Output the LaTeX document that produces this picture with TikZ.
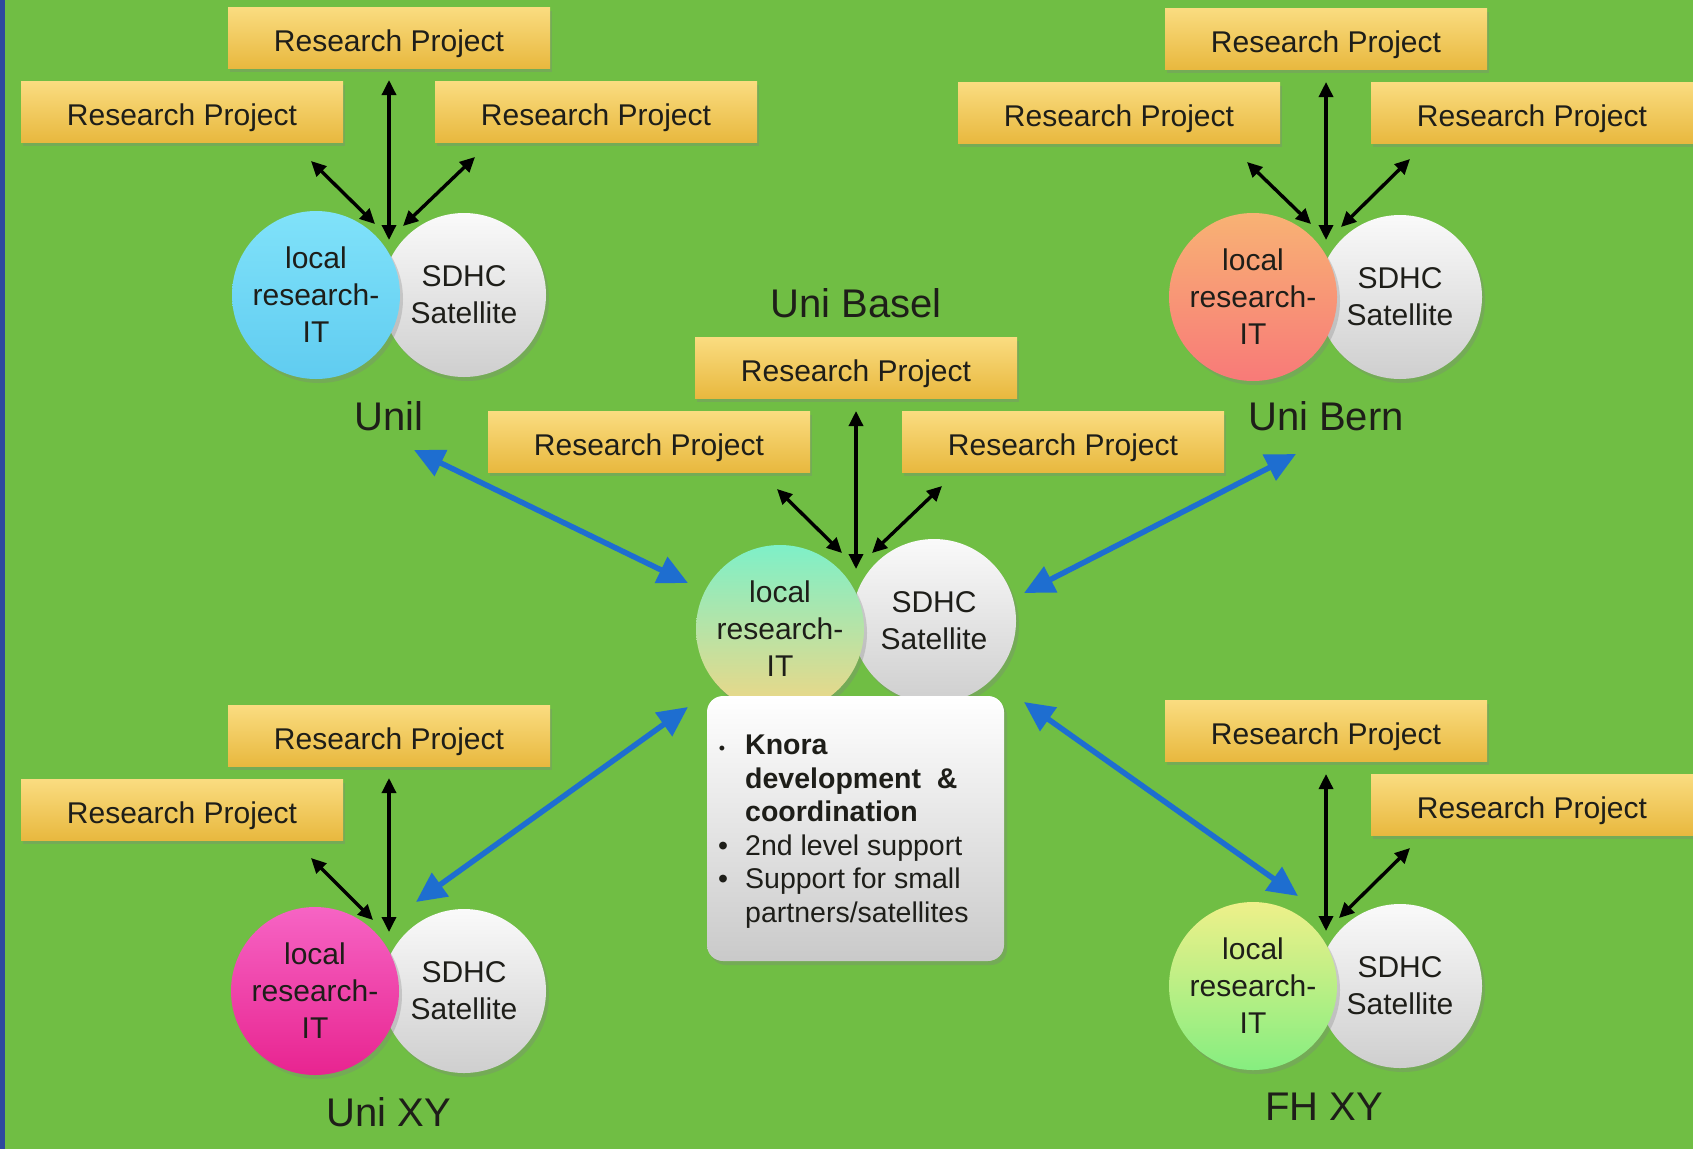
\documentclass[tikz,border=0pt]{standalone}
\usepackage{fontspec}
\setmainfont{Liberation Sans}
\usetikzlibrary{arrows.meta,shadows}
\definecolor{bg}{RGB}{112,190,68}
\definecolor{bord}{RGB}{46,74,158}
\definecolor{boxtop}{RGB}{250,220,128}
\definecolor{boxbot}{RGB}{232,184,62}
\definecolor{txt}{RGB}{30,30,25}
\definecolor{cyanA}{RGB}{128,226,250}
\definecolor{cyanB}{RGB}{96,204,240}
\definecolor{oraA}{RGB}{248,178,116}
\definecolor{oraB}{RGB}{248,122,120}
\definecolor{magA}{RGB}{246,100,196}
\definecolor{magB}{RGB}{232,36,144}
\definecolor{fhA}{RGB}{238,240,138}
\definecolor{fhB}{RGB}{134,238,128}
\definecolor{ctA}{RGB}{126,240,200}
\definecolor{ctB}{RGB}{240,214,132}
\definecolor{arrblue}{RGB}{30,110,208}
\begin{document}
\begin{tikzpicture}[x=1pt,y=-1pt,
  rp/.style={rectangle, minimum width=322pt, minimum height=61pt, inner sep=0pt,
    text height=27pt, text depth=0pt,
    top color=boxtop, bottom color=boxbot,
    drop shadow={opacity=0.3,shadow xshift=2pt,shadow yshift=-3pt},
    font=\fontsize{30}{36}\selectfont, text=txt},
  circ/.style={circle, minimum size=168pt, inner sep=0pt, align=center,
    font=\fontsize{30}{37}\selectfont, text=txt,
    drop shadow={opacity=0.3,shadow xshift=3pt,shadow yshift=-4pt}},
  sat/.style={circ, minimum size=164pt, top color=gray!4, bottom color=gray!38},
  lab/.style={font=\fontsize{40}{48}\selectfont, text=txt},
  knbox/.style={rectangle, rounded corners=16pt, minimum width=297pt, minimum height=265pt,
    top color=white, bottom color=gray!42,
    drop shadow={opacity=0.3,shadow xshift=3pt,shadow yshift=-4pt}},
  knt/.style={align=left, inner sep=0pt, font=\fontsize{28.5}{33.5}\selectfont, text=txt},
  barrow/.style={{Triangle[length=15pt,width=14pt]}-{Triangle[length=15pt,width=14pt]}, line width=3.4pt, black},
  bluearrow/.style={{Triangle[length=30pt,width=28pt]}-{Triangle[length=30pt,width=28pt]}, line width=5.5pt, arrblue}
]
\fill[bg] (0,0) rectangle (1693,1149);
\fill[bord] (0,0) rectangle (5,1149);
\useasboundingbox (0,0) rectangle (1693,1149);

% ---------- Top-left: Unil ----------
\node[rp] (tlA) at (389,38) {Research Project};
\node[rp] (tlB) at (182,112) {Research Project};
\node[rp] (tlC) at (596,112) {Research Project};
\node[sat] (tlS) at (464,295) {SDHC\\Satellite};
\node[circ, top color=cyanA, bottom color=cyanB] (tlL) at (316,295) {local\\research-\\IT};
\node[lab] (tlN) at (389,416) {Unil};

% ---------- Top-right: Uni Bern ----------
\node[rp] (trA) at (1326,39) {Research Project};
\node[rp] (trB) at (1119,113) {Research Project};
\node[rp] (trC) at (1532,113) {Research Project};
\node[sat] (trS) at (1400,297) {SDHC\\Satellite};
\node[circ, top color=oraA, bottom color=oraB] (trL) at (1253,297) {local\\research-\\IT};
\node[lab] (trN) at (1326,416) {Uni Bern};

% ---------- Center: Uni Basel ----------
\node[lab] (ctN) at (856,303) {Uni Basel};
\node[rp] (ctA) at (856,368) {Research Project};
\node[rp] (ctB) at (649,442) {Research Project};
\node[rp] (ctC) at (1063,442) {Research Project};
\node[sat] (ctS) at (934,621) {SDHC\\Satellite};
\node[circ, top color=ctA, bottom color=ctB] (ctL) at (780,629) {local\\research-\\IT};
\node[knbox] (kb) at (855.5,828.5) {};
\node[knt, anchor=north west] (kt) at (745,735)
  {\llap{{\fontsize{18}{18}\selectfont•}\hspace{20pt}}\textbf{Knora}\\
   \textbf{development\ \ \&}\\
   \textbf{coordination}\\
   \llap{•\hspace{17pt}}2nd level support\\
   \llap{•\hspace{17pt}}Support for small\\
   partners/satellites};

% ---------- Bottom-left: Uni XY ----------
\node[rp] (blA) at (389,736) {Research Project};
\node[rp] (blB) at (182,810) {Research Project};
\node[sat] (blS) at (464,991) {SDHC\\Satellite};
\node[circ, top color=magA, bottom color=magB] (blL) at (315,991) {local\\research-\\IT};
\node[lab] (blN) at (389,1112) {Uni XY};

% ---------- Bottom-right: FH XY ----------
\node[rp] (brA) at (1326,731) {Research Project};
\node[rp] (brC) at (1532,805) {Research Project};
\node[sat] (brS) at (1400,986) {SDHC\\Satellite};
\node[circ, top color=fhA, bottom color=fhB] (brL) at (1253,986) {local\\research-\\IT};
\node[lab] (brN) at (1324,1107) {FH XY};

% ---------- arrow end coordinates ----------
\coordinate (tlv1) at (389,80);   \coordinate (tlv2) at (389,240);
\coordinate (tll1) at (311,161);  \coordinate (tll2) at (375,224);
\coordinate (tlr1) at (475,157);  \coordinate (tlr2) at (403,226);
\coordinate (trv1) at (1326,82);  \coordinate (trv2) at (1326,240);
\coordinate (trl1) at (1247,162); \coordinate (trl2) at (1311,224);
\coordinate (trr1) at (1410,159); \coordinate (trr2) at (1341,227);
\coordinate (ctv1) at (856,411);  \coordinate (ctv2) at (856,569);
\coordinate (ctl1) at (777,489);  \coordinate (ctl2) at (842,553);
\coordinate (ctr1) at (942,486);  \coordinate (ctr2) at (872,553);
\coordinate (blv1) at (389,778);  \coordinate (blv2) at (389,932);
\coordinate (bll1) at (311,858);  \coordinate (bll2) at (373,920);
\coordinate (brv1) at (1326,774); \coordinate (brv2) at (1326,931);
\coordinate (brr1) at (1410,848); \coordinate (brr2) at (1339,918);
\coordinate (b1a) at (414,450);   \coordinate (b1b) at (688,583);
\coordinate (b2a) at (1296,454);  \coordinate (b2b) at (1024,593);
\coordinate (b3a) at (416,902);   \coordinate (b3b) at (688,707);
\coordinate (b4a) at (1298,896);  \coordinate (b4b) at (1024,702);

% black arrows
\draw[barrow] (tlv1) -- (tlv2);
\draw[barrow] (tll1) -- (tll2);
\draw[barrow] (tlr1) -- (tlr2);
\draw[barrow] (trv1) -- (trv2);
\draw[barrow] (trl1) -- (trl2);
\draw[barrow] (trr1) -- (trr2);
\draw[barrow] (ctv1) -- (ctv2);
\draw[barrow] (ctl1) -- (ctl2);
\draw[barrow] (ctr1) -- (ctr2);
\draw[barrow] (blv1) -- (blv2);
\draw[barrow] (bll1) -- (bll2);
\draw[barrow] (brv1) -- (brv2);
\draw[barrow] (brr1) -- (brr2);

% blue arrows
\draw[bluearrow] (b1a) -- (b1b);
\draw[bluearrow] (b2a) -- (b2b);
\draw[bluearrow] (b3a) -- (b3b);
\draw[bluearrow] (b4a) -- (b4b);
\end{tikzpicture}
\end{document}
